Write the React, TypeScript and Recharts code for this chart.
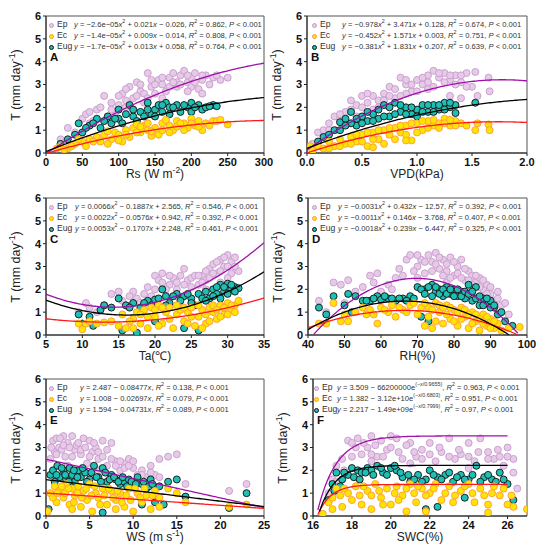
import React from "react";
import { ComposedChart, Scatter, XAxis, YAxis, ReferenceArea } from "recharts";

// marker / line colours per species
const EP = { fill: "#e8c9e8", stroke: "#c49ccc", line: "#a010a8" };
const EC = { fill: "#ffe400", stroke: "#ff9a3c", line: "#ff1a1a" };
const EUG = { fill: "#1fbfb5", stroke: "#111111", line: "#000000" };

const Y_TICKS = [0, 1, 2, 3, 4, 5, 6];

// ---- A: Rs ----
const rsTicks = [0, 50, 100, 150, 200, 250, 300];
const rsEp = [[20,0.6],[30,1.1],[40,0.9],[50,1.5],[55,1.7],[60,1.3],[70,1.9],[80,2.5],[85,1.6],[90,2.2],[100,2.1],[105,2.6],[110,2.3],[115,2.9],[120,2.4],[125,3.1],[130,2.7],[135,2.2],[140,3.5],[145,2.9],[150,2.6],[155,3.2],[160,3.0],[165,2.7],[170,3.3],[175,3.5],[180,2.9],[185,3.4],[190,3.6],[195,3.1],[200,3.3],[205,3.5],[210,2.8],[215,3.2],[220,3.4],[230,3.3],[240,3.2],[250,3.3],[215,2.6],[180,3.1],[160,2.4],[120,1.9],[95,1.8],[65,1.4],
  [60,1.8],[75,2.0],[90,1.9],[100,2.5],[110,2.0],[125,2.5],[130,3.0],[135,2.6],[145,3.2],[150,3.0],[160,3.3],[170,2.9],[175,3.1],[185,3.0],[195,3.4],[200,2.9],[205,3.1],[215,3.4],[225,3.0],[235,3.4],[140,2.4],[110,2.8],[195,2.7]];
const rsEc = [[15,0.2],[20,0.3],[30,0.2],[40,0.4],[50,0.5],[55,0.3],[60,0.6],[70,0.7],[75,0.5],[80,0.8],[90,0.6],[95,0.9],[100,0.8],[110,1.0],[115,0.7],[120,1.1],[130,0.9],[135,1.2],[140,1.0],[150,1.1],[155,0.8],[160,1.3],[170,1.2],[175,1.0],[180,1.4],[190,1.3],[195,1.1],[200,1.5],[205,1.2],[210,1.4],[220,1.3],[230,1.4],[235,1.4],[250,1.25],[215,1.0],[165,1.45],[125,1.25],[85,0.95],[45,0.6],[105,0.5],[145,0.75],
  [65,0.5],[85,0.4],[100,0.55],[110,0.8],[125,0.9],[130,1.15],[140,1.3],[145,0.95],[160,1.0],[170,0.9],[180,1.15],[185,1.3],[190,1.0],[200,1.3],[210,1.15],[225,1.2],[240,1.45],[35,0.3],[25,0.15]];
const rsEug = [[20,0.4],[30,0.6],[40,0.8],[45,1.3],[50,0.9],[60,1.2],[70,1.5],[75,1.1],[85,1.6],[90,1.3],[100,1.5],[110,1.7],[115,2.1],[120,1.6],[130,1.8],[140,2.2],[145,1.7],[150,1.9],[155,2.1],[160,1.8],[165,2.2],[170,2.0],[180,2.1],[185,1.8],[195,2.0],[200,2.2],[210,2.1],[215,1.9],[220,2.0],[230,2.1],[235,2.05],[125,1.4],
  [55,1.1],[65,1.3],[80,1.4],[95,1.5],[105,1.3],[120,1.9],[135,1.6],[140,1.9],[150,1.6],[160,2.1],[170,1.7],[175,2.0],[190,2.1],[200,1.8],[205,2.0],[225,2.05],[100,1.9]];
const rsFitEp = [-2.6e-5, 0.021, -0.026];
const rsFitEc = [-1.4e-5, 0.009, -0.014];
const rsFitEug = [-1.7e-5, 0.013, 0.058];

// ---- B: VPD ----
const vpdTicks = [0, 0.5, 1.0, 1.5, 2.0];
const vpdEp = [[0.05,0.4],[0.1,0.9],[0.15,1.0],[0.2,1.3],[0.25,1.6],[0.3,1.5],[0.35,1.8],[0.4,1.9],[0.45,2.1],[0.5,2.5],[0.55,2.2],[0.6,2.5],[0.65,2.3],[0.7,2.6],[0.75,2.9],[0.8,2.4],[0.85,3.3],[0.9,3.0],[0.95,2.7],[1.0,3.2],[1.05,3.0],[1.1,3.4],[1.15,3.6],[1.2,3.3],[1.25,3.5],[1.3,3.2],[1.35,3.4],[1.4,3.1],[1.45,3.5],[1.5,2.9],[1.53,3.55],[1.55,2.5],[1.65,3.3],[1.66,2.7],[1.1,2.8],[0.9,2.6],[1.3,2.5],[0.6,1.9],
  [0.2,1.0],[0.3,1.7],[0.4,2.3],[0.45,1.6],[0.5,2.0],[0.55,2.6],[0.65,2.0],[0.7,2.3],[0.75,2.5],[0.8,2.8],[0.85,2.5],[0.9,3.2],[0.95,3.0],[1.0,2.7],[1.05,3.3],[1.1,3.1],[1.15,2.9],[1.2,3.5],[1.25,3.1],[1.3,3.4],[1.35,3.0],[1.4,3.4],[1.45,2.9],[1.3,2.2],[1.4,2.4]];
const vpdEc = [[0.03,0.3],[0.05,0.1],[0.1,0.3],[0.15,0.2],[0.2,0.5],[0.25,0.3],[0.3,0.6],[0.35,0.4],[0.4,0.7],[0.45,0.5],[0.5,0.8],[0.55,0.3],[0.6,0.9],[0.65,0.6],[0.7,1.0],[0.75,0.8],[0.8,1.1],[0.85,0.9],[0.9,1.2],[0.95,0.55],[1.0,1.3],[1.05,1.0],[1.1,1.4],[1.15,1.2],[1.2,1.3],[1.25,1.5],[1.3,1.2],[1.35,1.4],[1.4,1.3],[1.45,1.2],[1.53,1.0],[1.55,1.3],[1.65,1.25],[1.66,1.0],[0.7,0.4],[1.0,0.9],
  [0.2,0.2],[0.3,0.3],[0.4,0.4],[0.45,0.8],[0.5,0.5],[0.55,0.9],[0.6,0.6],[0.65,1.0],[0.75,1.1],[0.8,0.6],[0.85,1.2],[0.9,0.8],[0.95,1.3],[1.05,1.4],[1.1,1.1],[1.15,1.45],[1.2,1.1],[1.25,1.3],[1.3,1.45],[1.35,1.2],[0.9,0.55],[0.6,0.25]];
const vpdEug = [[0.05,0.2],[0.1,0.5],[0.15,0.7],[0.2,0.8],[0.25,1.0],[0.3,1.35],[0.35,1.5],[0.4,1.8],[0.45,1.2],[0.5,1.6],[0.55,1.4],[0.6,1.7],[0.65,1.5],[0.7,2.1],[0.75,1.6],[0.8,2.2],[0.85,1.8],[0.9,2.0],[0.95,1.7],[1.0,1.9],[1.05,2.1],[1.1,1.8],[1.15,2.1],[1.2,1.9],[1.25,2.2],[1.3,2.0],[1.35,2.1],[1.35,1.75],[1.53,2.2],[0.4,1.3],
  [0.3,1.0],[0.35,1.2],[0.45,1.5],[0.5,1.3],[0.55,1.8],[0.6,1.4],[0.65,1.9],[0.7,1.6],[0.75,2.0],[0.8,1.7],[0.85,2.1],[0.9,1.7],[0.95,2.0],[1.0,1.6],[1.05,1.8],[1.1,2.1],[1.15,1.8],[1.2,2.1],[1.25,1.9],[1.3,2.2]];
const vpdFitEp = [-0.978, 3.471, 0.128];
const vpdFitEc = [-0.452, 1.571, 0.003];
const vpdFitEug = [-0.381, 1.831, 0.207];

// ---- C: Ta ----
const taTicks = [5, 10, 15, 20, 25, 30, 35];
const taEp = [[9.5,1.0],[10.5,1.4],[11,1.2],[12,1.0],[13,1.3],[14,1.8],[15,1.9],[15.5,1.5],[16,1.3],[17,1.9],[17.5,1.6],[18,1.4],[19,2.1],[20,2.6],[20.5,2.4],[21,2.7],[22,2.2],[22.5,2.5],[23,2.0],[24,2.9],[24.5,2.4],[25,2.5],[25.5,2.6],[26,2.2],[26.5,2.6],[27,2.4],[27.5,2.9],[28,3.1],[28.5,2.7],[29,3.3],[29.5,3.0],[30,3.5],[30.5,3.2],[31,3.4],[31.5,2.8],[29,2.3],[27,2.0],[23,1.7],[18,1.2],
  [16.5,1.7],[17,1.4],[18.5,1.8],[19.5,1.7],[20,2.0],[21,2.3],[21.5,2.0],[22,2.6],[23,2.3],[23.5,2.6],[24,2.2],[25,2.1],[26,2.6],[26.5,2.3],[27,2.8],[27.5,2.5],[28,2.7],[28.5,3.2],[29,2.8],[29.5,3.4],[30,3.0],[30.5,2.7],[31,3.0],[30,2.5]];
const taEc = [[9.5,0.5],[10,0.25],[10.5,0.5],[11,0.6],[12,0.5],[13,0.55],[14,0.6],[15,0.4],[15.5,0.9],[16,0.3],[17,0.7],[17.5,1.0],[18,0.5],[18.5,1.1],[19,0.3],[19.5,1.2],[20,0.8],[20.5,1.3],[21,0.5],[21.5,1.0],[22,1.2],[22.5,0.3],[23,0.9],[23.5,1.1],[24,0.6],[24.5,1.0],[25,1.2],[25.5,0.4],[26,0.8],[26.5,1.1],[27,0.5],[27.5,1.2],[28,1.0],[28.5,0.7],[29,1.3],[29.5,0.9],[30,1.4],[30.5,1.1],[31,1.3],[31.5,1.5],
  [16.5,0.6],[17,0.3],[18,0.9],[19,0.8],[20,1.1],[20.5,0.4],[21,1.2],[22,0.7],[23,1.3],[24,1.2],[24.5,0.5],[25,0.8],[26,1.3],[26.5,0.3],[27,0.9],[27.5,0.6],[28,1.3],[28.5,1.1],[29,0.8],[29.5,1.2],[30,0.9],[30.5,1.3],[31,1.0]];
const taEug = [[9.5,0.9],[10,0.5],[11,0.8],[11.5,0.4],[12.5,1.1],[13,1.3],[14,1.2],[15,1.6],[15.5,0.2],[16,1.3],[17,1.4],[17.5,0.1],[18,1.2],[19,1.5],[20,1.55],[21,2.0],[21.5,1.7],[22,1.4],[23,1.8],[24,1.7],[25,1.6],[25.5,1.3],[26,1.8],[27,1.9],[27.5,1.6],[28,2.0],[28.5,1.8],[29,2.2],[29.5,1.9],[30,2.25],[30.5,2.0],[31,2.1],[31.5,2.05],[24,0.3],
  [16.5,1.2],[18.5,1.4],[19.5,1.3],[20.5,1.6],[21.5,1.3],[22.5,1.7],[23.5,1.5],[24.5,1.8],[25,1.4],[26.5,1.6],[27,1.5],[28,1.7],[28.5,2.1],[29,1.6],[29.5,2.1],[30,1.8],[30.5,2.2],[31,1.9],[20,0.6],[26,0.2]];
const taFitEp = [0.0066, -0.1887, 2.565];
const taFitEc = [0.0022, -0.0576, 0.942];
const taFitEug = [0.0053, -0.1707, 2.248];

// ---- D: RH ----
const rhTicks = [40, 50, 60, 70, 80, 90, 100];
const rhEp = [[43,1.5],[45,1.0],[47,2.3],[49,2.2],[50,1.4],[51,2.4],[53,1.9],[55,2.1],[57,2.6],[59,2.7],[60,1.9],[62,2.2],[64,2.5],[66,2.6],[67,3.3],[68,3.5],[70,3.0],[71,3.3],[72,2.7],[73,3.5],[74,3.2],[75,3.6],[76,2.9],[77,3.3],[78,2.8],[79,3.4],[80,2.6],[81,3.0],[82,3.3],[83,2.4],[84,2.8],[85,2.6],[86,2.3],[87,2.5],[88,2.0],[89,2.2],[90,1.8],[91,1.5],[92,1.6],[93,1.3],[94,1.4],[95,0.9],[70,2.5],[78,2.3],
  [58,2.3],[63,2.0],[65,2.9],[69,2.8],[70,3.5],[72,3.2],[74,2.8],[75,3.1],[76,3.4],[77,2.6],[78,3.1],[79,2.5],[80,3.2],[81,2.7],[82,2.5],[83,2.9],[84,2.4],[85,2.2],[86,2.6],[87,2.1],[88,2.4],[89,1.8],[90,2.1],[92,1.9]];
const rhEc = [[43,0.5],[45,0.5],[47,1.4],[49,0.6],[50,0.9],[51,0.6],[53,1.0],[55,1.2],[57,1.1],[58,0.9],[59,0.5],[60,1.2],[62,1.0],[63,1.3],[64,0.8],[66,1.1],[68,1.3],[70,0.9],[72,0.4],[73,1.2],[74,0.3],[75,1.4],[76,1.0],[77,0.5],[78,1.3],[79,0.7],[80,1.1],[81,0.4],[82,1.2],[83,0.8],[84,0.3],[85,1.0],[86,0.6],[87,0.2],[88,0.9],[89,0.4],[90,0.7],[91,0.3],[92,0.5],[93,0.2],[95,0.3],[98,0.35],
  [56,0.9],[61,1.1],[65,1.2],[67,1.0],[69,1.4],[71,1.2],[72,1.4],[73,0.8],[74,1.1],[75,0.6],[76,1.3],[77,1.2],[78,0.9],[79,1.2],[80,0.6],[81,1.0],[82,0.7],[83,1.1],[84,0.9],[85,0.5],[86,0.9],[87,0.7],[88,0.5],[89,0.8],[90,0.3],[91,0.6]];
const rhEug = [[43,1.2],[45,0.9],[47,1.7],[50,1.3],[51,1.8],[52,1.0],[53,1.7],[55,1.5],[57,1.5],[59,1.7],[60,1.55],[62,1.6],[64,1.5],[66,1.6],[68,1.7],[70,2.1],[71,0.8],[72,2.0],[73,0.6],[74,2.2],[75,1.9],[76,2.0],[77,1.7],[78,2.1],[79,1.8],[80,2.0],[81,1.7],[82,1.9],[83,1.6],[84,2.2],[85,1.5],[86,2.1],[87,1.3],[88,1.6],[89,1.4],[90,1.5],[91,1.2],[92,0.9],[93,1.0],[94,0.6],[96,0.4],
  [56,1.5],[58,1.6],[61,1.7],[63,1.6],[65,1.6],[67,1.5],[69,1.6],[71,2.0],[72,1.8],[73,2.1],[74,1.7],[75,2.1],[76,1.8],[77,2.0],[78,1.8],[79,2.0],[80,1.7],[81,2.0],[82,1.7],[83,1.9],[84,1.8],[85,1.9],[86,1.6],[87,1.7],[88,1.3],[89,1.6],[90,1.2],[91,1.3]];
const rhFitEp = [-0.0031, 0.432, -12.57];
const rhFitEc = [-0.0011, 0.146, -3.768];
const rhFitEug = [-0.0018, 0.239, -6.447];

// ---- E: WS ----
const wsTicks = [0, 5, 10, 15, 20, 25];
const wsEp = [[0.5,2.5],[0.8,3.3],[1,2.8],[1.2,3.4],[1.5,3.0],[2,3.5],[2.2,2.6],[2.5,3.2],[3,3.5],[3.3,2.9],[3.5,3.1],[4,2.7],[4.3,3.4],[4.7,2.3],[5,3.3],[5.3,2.8],[5.7,3.0],[6,2.5],[6.5,3.3],[7,2.2],[7.5,3.2],[8,2.4],[8.5,2.0],[9,2.3],[9.5,2.5],[10,2.1],[10.5,1.8],[11,2.0],[11.5,1.7],[12,2.2],[12.5,1.8],[13,2.5],[14,2.6],[15,2.7],[16,1.4],[21,1.1],[23,1.4],[2.5,2.2],[6,2.0],
  [0.6,3.0],[1.2,2.7],[1.6,3.4],[1.8,2.9],[2,3.1],[2.7,3.0],[3,2.6],[3.7,3.2],[4,2.9],[4.5,3.0],[5,2.6],[5.5,3.2],[6,2.8],[6.5,2.6],[7,2.9],[7.5,2.5],[8,2.2],[8.5,2.4],[9,2.1],[9.5,2.2],[10,2.4],[11,1.8],[12,1.9],[13,1.7]];
const wsEc = [[0.2,0.2],[0.5,1.0],[1,1.3],[1.2,0.6],[1.5,1.1],[2,0.8],[2.3,1.4],[2.7,0.5],[3,1.2],[3.3,0.9],[3.7,1.3],[4,0.4],[4.3,1.1],[4.7,0.7],[5,1.4],[5.3,0.2],[5.7,1.0],[6,0.8],[6.5,1.2],[7,0.5],[7.5,1.1],[8,0.7],[8.5,1.0],[9,0.4],[9.5,1.2],[10,0.2],[10.5,1.0],[11,0.6],[11.5,0.9],[12,0.3],[12.5,1.1],[13,0.4],[14,1.2],[15,1.0],[16,0.6],[21,0.4],[23,0.5],[8,0.3],[3,0.3],
  [0.8,0.8],[1.3,1.0],[1.8,1.3],[2.2,1.0],[2.6,1.2],[3.2,0.6],[3.6,1.0],[4.1,0.8],[4.6,1.2],[5.2,0.9],[5.6,1.3],[6.2,0.5],[6.7,0.9],[7.2,1.2],[7.7,0.8],[8.2,1.1],[8.7,0.6],[9.2,0.9],[9.7,0.7],[10.2,1.2],[10.8,0.8],[11.3,1.2],[12.2,0.9],[13,0.8]];
const wsEug = [[0.3,0.3],[0.5,1.8],[0.8,2.0],[1,1.5],[1.3,2.2],[1.6,1.7],[2,2.0],[2.3,1.6],[2.7,2.1],[3,1.8],[3.3,1.5],[3.7,2.0],[4,1.7],[4.5,1.9],[5,1.6],[5.5,2.2],[6,1.7],[6.5,2.1],[7,1.5],[7.5,1.8],[8,1.6],[8.5,1.4],[9,1.5],[9.5,1.6],[10,1.3],[10.5,1.7],[11,1.4],[11.5,1.2],[12,1.6],[12.5,0.6],[13,1.3],[13.5,0.5],[14,1.5],[15,1.6],[16,0.85],[21,0.35],[23,1.0],[6.5,0.15],[11,0.5],
  [1.2,1.8],[1.8,2.1],[2.2,1.8],[2.6,1.5],[3.2,2.0],[3.6,1.7],[4.2,2.1],[4.7,1.5],[5.2,1.9],[5.8,1.7],[6.3,1.5],[6.8,1.9],[7.3,1.6],[7.8,1.7],[8.3,1.5],[8.8,1.7],[9.3,1.3],[9.8,1.5],[10.3,1.4],[11.2,1.5],[11.8,1.3],[12.2,1.4]];
const wsFitEp = [2.487, -0.08477];
const wsFitEc = [1.008, -0.02697];
const wsFitEug = [1.594, -0.04731];

// ---- F: SWC ----
const swcTicks = [16, 18, 20, 22, 24, 26];
const swcEp = [[16.8,1.0],[17,1.6],[17.2,2.2],[17.5,2.5],[17.8,3.3],[18,3.2],[18.3,3.4],[18.5,2.7],[18.8,3.0],[19,3.5],[19.3,2.6],[19.5,3.3],[19.8,2.9],[20,3.0],[20.3,3.4],[20.6,2.5],[21,3.2],[21.3,2.6],[21.6,2.9],[22,3.2],[22.3,2.4],[22.6,2.8],[23,3.4],[23.3,2.5],[23.6,2.7],[24,3.2],[24.3,2.4],[24.6,3.4],[25,2.8],[25.3,2.5],[25.6,2.6],[26,3.0],[26.3,2.5],[26.5,1.2],[21,2.3],[24,2.1],[19,2.4],[25.8,2.2],
  [17.2,1.5],[17.6,2.0],[18,2.6],[18.2,3.0],[18.6,3.2],[19,2.7],[19.2,3.1],[19.6,2.6],[20,3.5],[20.4,2.8],[20.8,3.1],[21.2,2.8],[21.6,2.5],[22,2.7],[22.5,3.0],[23,2.6],[23.5,2.9],[24,2.6],[24.5,2.8],[25,2.5],[25.5,2.9],[26,2.6],[26.3,1.9]];
const swcEc = [[16.5,0.1],[16.8,0.6],[17,0.8],[17.2,1.2],[17.5,0.4],[17.8,1.0],[18,0.7],[18.2,1.3],[18.5,0.5],[18.8,1.1],[19,0.3],[19.2,1.4],[19.5,0.8],[19.8,1.2],[20,0.5],[20.3,1.3],[20.6,0.9],[21,1.4],[21.3,0.6],[21.6,1.2],[22,1.0],[22.3,1.4],[22.6,0.7],[23,1.3],[23.3,0.9],[23.6,1.1],[24,1.4],[24.3,0.6],[24.6,1.2],[25,0.5],[25.3,1.3],[25.6,0.9],[26,0.5],[26.3,0.4],[27,0.3],[21.8,0.2],[20.8,0.2],[25,0.15],
  [17,0.3],[17.4,0.9],[17.6,1.2],[18.4,0.9],[18.6,1.3],[19,0.9],[19.4,1.1],[19.6,0.5],[20.2,1.0],[20.4,0.7],[20.8,1.2],[21.2,1.0],[21.4,1.3],[21.8,0.9],[22.2,1.2],[22.8,1.0],[23.2,0.6],[23.8,1.3],[24.2,1.0],[24.8,0.9],[25.2,1.0],[25.8,1.2],[26.2,0.9]];
const swcEug = [[16.8,0.7],[17,1.4],[17.2,1.9],[17.5,1.6],[17.8,1.8],[18,2.1],[18.3,2.0],[18.5,1.9],[18.8,2.1],[19,2.0],[19.3,2.2],[19.6,1.9],[20,2.1],[20.3,2.0],[20.6,1.7],[21,1.5],[21.4,1.8],[21.8,1.6],[22,2.0],[22.4,1.7],[22.8,1.8],[23.2,1.5],[23.6,1.8],[24,1.6],[24.4,2.2],[24.8,1.7],[25.2,1.6],[25.6,1.9],[26,1.4],[26.3,0.7],[21.8,0.3],[22.4,0.4],[23.8,0.8],
  [17.1,1.1],[17.4,1.3],[17.6,1.9],[18.1,1.7],[18.4,1.6],[18.7,1.9],[19.1,1.8],[19.5,2.1],[19.8,1.8],[20.2,2.2],[20.5,1.9],[20.9,1.8],[21.2,1.6],[21.6,1.5],[22.2,1.8],[22.6,1.6],[23.0,1.9],[23.4,1.7],[23.8,1.6],[24.2,1.8],[24.6,1.5],[25,1.8],[25.4,1.5],[25.8,1.6]];
const swcFitEp = [3.509, 66200000, 0.9655];
const swcFitEc = [1.382, 3.12e10, 0.6803];
const swcFitEug = [2.217, 1.49e9, 0.7999];

const toPts = (arr: number[][]) => arr.map(([x, y]) => ({ x, y }));

// evaluate a printed fit equation along the x range, keeping y >= 0
function curve(f: (x: number) => number, x0: number, x1: number) {
  const out: { x: number; y: number }[] = [];
  const n = 120;
  for (let i = 0; i <= n; i++) {
    const x = x0 + ((x1 - x0) * i) / n;
    const y = f(x);
    if (y >= 0 && y <= 6.2) out.push({ x, y });
  }
  return out;
}
const quad = (c: number[]) => (x: number) => c[0] * x * x + c[1] * x + c[2];
const lin = (c: number[]) => (x: number) => c[0] + c[1] * x;
const expo = (c: number[]) => (x: number) => c[0] - c[1] * Math.exp(-x / c[2]);

const FONT = "'Liberation Sans', Arial, sans-serif";

const dot = (style: typeof EP) => (props: any) => (
  <circle cx={props.cx} cy={props.cy} r={3.5} fill={style.fill} stroke={style.stroke} strokeWidth={0.9} />
);
const noDot = () => <g />;

const I = ({ children }: { children: React.ReactNode }) => <i>{children}</i>;
const S = ({ children }: { children: React.ReactNode }) => (
  <sup style={{ fontSize: "0.7em", lineHeight: 0 }}>{children}</sup>
);

function statTail(r2: string) {
  return (
    <>
      , <I>R</I>
      <S>2</S> = {r2}, <I>P</I> &lt; 0.001
    </>
  );
}
const quadEq = (a: string, b: string, c: string, r2: string) => (
  <>
    <I>y</I> = {a}
    <I>x</I>
    <S>2</S> {b}
    <I>x</I> {c}
    {statTail(r2)}
  </>
);
const linEq = (a: string, b: string, r2: string) => (
  <>
    <I>y</I> = {a} {b}
    <I>x</I>
    {statTail(r2)}
  </>
);
const expEq = (a: string, b: string, k: string, r2: string) => (
  <>
    <I>y</I> = {a} − {b}e<S>(−<I>x</I>/{k})</S>
    {statTail(r2)}
  </>
);

type PanelProps = {
  left: number;
  right: number;
  top: number;
  bottom: number;
  letter: string;
  domain: [number, number];
  ticks: number[];
  ep: number[][];
  ec: number[][];
  eug: number[][];
  fits: { x: number; y: number }[][];
  eqs: React.ReactNode[];
  eqOffset: number;
  markOffset: number;
  xTitle: React.ReactNode;
};

function Panel(p: PanelProps) {
  const yAxisW = 45;
  const w = p.right - p.left + yAxisW + 10;
  const h = p.bottom - p.top + 10 + 30;
  const tickStyle = { fontSize: 11, fontWeight: 700, fill: "#111", fontFamily: FONT };
  const names = ["Ep", "Ec", "Eug"];
  const styles = [EP, EC, EUG];
  return (
    <>
      <div style={{ position: "absolute", left: p.left - yAxisW, top: p.top - 10 }}>
        <ComposedChart width={w} height={h} margin={{ top: 10, right: 10, left: 0, bottom: 0 }}>
          <XAxis
            type="number"
            dataKey="x"
            domain={p.domain}
            ticks={p.ticks}
            allowDataOverflow
            height={30}
            tick={tickStyle}
            tickSize={3}
            axisLine={{ stroke: "#222" }}
            tickLine={{ stroke: "#222" }}
            tickFormatter={(v: number) => (p.domain[1] === 2 ? v.toFixed(1) : String(v))}
          />
          <YAxis
            type="number"
            dataKey="y"
            domain={[0, 6]}
            ticks={Y_TICKS}
            allowDataOverflow
            width={yAxisW}
            tick={tickStyle}
            tickSize={3}
            axisLine={{ stroke: "#222" }}
            tickLine={{ stroke: "#222" }}
          />
          <ReferenceArea x1={p.domain[0]} x2={p.domain[1]} y1={0} y2={6} fill="none" stroke="#555" strokeWidth={1} />
          <Scatter data={toPts(p.ep)} shape={dot(EP)} isAnimationActive={false} />
          <Scatter data={toPts(p.eug)} shape={dot(EUG)} isAnimationActive={false} />
          <Scatter data={toPts(p.ec)} shape={dot(EC)} isAnimationActive={false} />
          <Scatter data={p.fits[0]} line={{ stroke: EP.line, strokeWidth: 1.3 }} shape={noDot} isAnimationActive={false} />
          <Scatter data={p.fits[1]} line={{ stroke: EC.line, strokeWidth: 1.3 }} shape={noDot} isAnimationActive={false} />
          <Scatter data={p.fits[2]} line={{ stroke: EUG.line, strokeWidth: 1.3 }} shape={noDot} isAnimationActive={false} />
        </ComposedChart>
      </div>
      {/* legend with fit equations */}
      {names.map((n, i) => (
        <div
          key={n}
          style={{
            position: "absolute",
            left: p.left + p.markOffset - 3,
            top: p.top + 3 + i * 11,
            height: 11,
            lineHeight: "11px",
            fontSize: 7.6,
            color: "#333",
            fontFamily: FONT,
            whiteSpace: "nowrap",
          }}
        >
          <span
            style={{
              display: "inline-block",
              width: 5,
              height: 5,
              borderRadius: "50%",
              background: styles[i].fill,
              border: `1px solid ${styles[i].stroke}`,
              boxSizing: "border-box",
              verticalAlign: "middle",
              marginRight: 3,
            }}
          />
          <span style={{ display: "inline-block", width: p.eqOffset - p.markOffset - 5, fontSize: 8.6 }}>{n}</span>
          {p.eqs[i]}
        </div>
      ))}
      <div
        style={{
          position: "absolute",
          left: p.left + 4,
          top: p.top + 35,
          fontSize: 11.5,
          fontWeight: 700,
          fontFamily: FONT,
          color: "#111",
        }}
      >
        {p.letter}
      </div>
      <div
        style={{
          position: "absolute",
          left: p.left - 30 - 60,
          top: (p.top + p.bottom) / 2 - 8,
          width: 120,
          textAlign: "center",
          transform: "rotate(-90deg)",
          fontSize: 12.5,
          fontFamily: FONT,
          color: "#222",
          lineHeight: "16px",
          whiteSpace: "nowrap",
        }}
      >
        T (mm day<S>-1</S>)
      </div>
      <div
        style={{
          position: "absolute",
          left: (p.left + p.right) / 2 - 60,
          top: p.bottom + 14,
          width: 120,
          textAlign: "center",
          fontSize: 12,
          fontFamily: FONT,
          color: "#222",
          lineHeight: "14px",
          whiteSpace: "nowrap",
        }}
      >
        {p.xTitle}
      </div>
    </>
  );
}

export default function App() {
  return (
    <div style={{ position: "relative", width: 550, height: 549, background: "#fff", overflow: "hidden" }}>
      <style>{`body{margin:0}`}</style>
      <Panel
        left={46} right={264} top={16} bottom={153} letter="A"
        domain={[0, 300]} ticks={rsTicks} ep={rsEp} ec={rsEc} eug={rsEug}
        fits={[curve(quad(rsFitEp), 0, 300), curve(quad(rsFitEc), 0, 300), curve(quad(rsFitEug), 0, 300)]}
        eqs={[
          quadEq("−2.6e−05", "+ 0.021", "− 0.026", "0.862"),
          quadEq("−1.4e−05", "+ 0.009", "− 0.014", "0.808"),
          quadEq("−1.7e−05", "+ 0.013", "+ 0.058", "0.764"),
        ]}
        eqOffset={28} markOffset={6}
        xTitle={<>Rs (W m<S>-2</S>)</>}
      />
      <Panel
        left={307} right={527} top={16} bottom={153} letter="B"
        domain={[0, 2]} ticks={vpdTicks} ep={vpdEp} ec={vpdEc} eug={vpdEug}
        fits={[curve(quad(vpdFitEp), 0, 2), curve(quad(vpdFitEc), 0, 2), curve(quad(vpdFitEug), 0, 2)]}
        eqs={[
          quadEq("−0.978", "+ 3.471", "+ 0.128", "0.674"),
          quadEq("−0.452", "+ 1.571", "+ 0.003", "0.751"),
          quadEq("−0.381", "+ 1.831", "+ 0.207", "0.639"),
        ]}
        eqOffset={35} markOffset={8}
        xTitle="VPD(kPa)"
      />
      <Panel
        left={46} right={264} top={198} bottom={335} letter="C"
        domain={[5, 35]} ticks={taTicks} ep={taEp} ec={taEc} eug={taEug}
        fits={[curve(quad(taFitEp), 5, 35), curve(quad(taFitEc), 5, 35), curve(quad(taFitEug), 5, 35)]}
        eqs={[
          quadEq("0.0066", "− 0.1887", "+ 2.565", "0.546"),
          quadEq("0.0022", "− 0.0576", "+ 0.942", "0.392"),
          quadEq("0.0053", "− 0.1707", "+ 2.248", "0.461"),
        ]}
        eqOffset={29} markOffset={6}
        xTitle="Ta(℃)"
      />
      <Panel
        left={308} right={527} top={198} bottom={335} letter="D"
        domain={[40, 100]} ticks={rhTicks} ep={rhEp} ec={rhEc} eug={rhEug}
        fits={[curve(quad(rhFitEp), 40, 100), curve(quad(rhFitEc), 40, 100), curve(quad(rhFitEug), 40, 100)]}
        eqs={[
          quadEq("−0.0031", "+ 0.432", "− 12.57", "0.392"),
          quadEq("−0.0011", "+ 0.146", "− 3.768", "0.407"),
          quadEq("−0.0018", "+ 0.239", "− 6.447", "0.325"),
        ]}
        eqOffset={30} markOffset={7}
        xTitle="RH(%)"
      />
      <Panel
        left={46} right={264} top={379} bottom={516} letter="E"
        domain={[0, 25]} ticks={wsTicks} ep={wsEp} ec={wsEc} eug={wsEug}
        fits={[curve(lin(wsFitEp), 0, 25), curve(lin(wsFitEc), 0, 25), curve(lin(wsFitEug), 0, 25)]}
        eqs={[
          linEq("2.487", "− 0.08477", "0.138"),
          linEq("1.008", "− 0.02697", "0.079"),
          linEq("1.594", "− 0.04731", "0.089"),
        ]}
        eqOffset={34} markOffset={6}
        xTitle={<>WS (m s<S>-1</S>)</>}
      />
      <Panel
        left={313} right={527} top={379} bottom={516} letter="F"
        domain={[16, 27]} ticks={swcTicks} ep={swcEp} ec={swcEc} eug={swcEug}
        fits={[curve(expo(swcFitEp), 16, 26), curve(expo(swcFitEc), 16, 26), curve(expo(swcFitEug), 16, 26)]}
        eqs={[
          expEq("3.509", "66200000", "0.9655", "0.963"),
          expEq("1.382", "3.12e+10", "0.6803", "0.951"),
          expEq("2.217", "1.49e+09", "0.7999", "0.97"),
        ]}
        eqOffset={24} markOffset={4}
        xTitle="SWC(%)"
      />
    </div>
  );
}
